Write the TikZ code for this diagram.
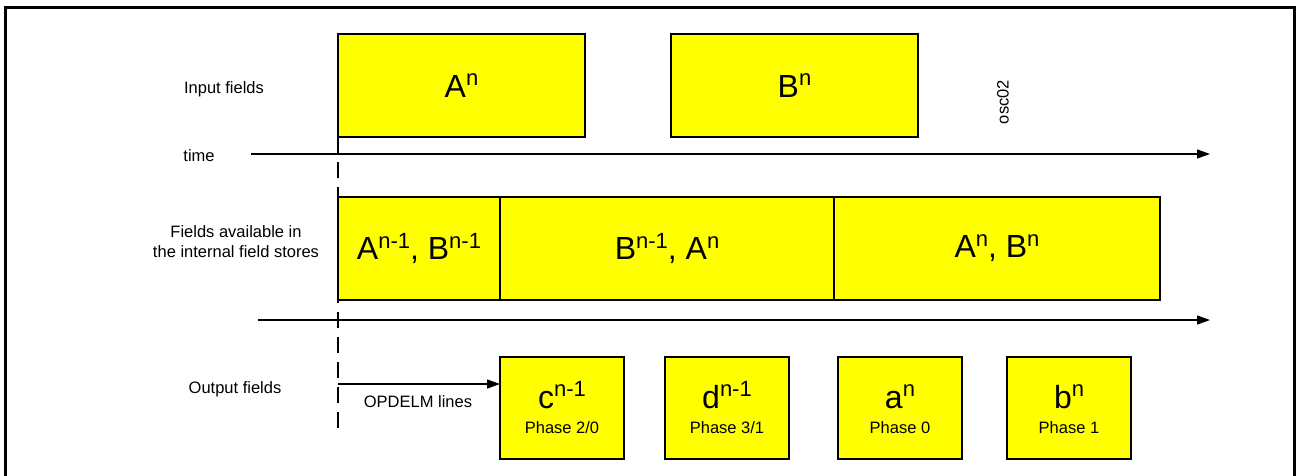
\documentclass[tikz,border=0pt]{standalone}
\usepackage{fontspec}
\setmainfont{Liberation Sans}
\usepackage{graphicx}
\usetikzlibrary{positioning,arrows.meta}

\definecolor{fieldyellow}{RGB}{255,255,0}
\newcommand{\fieldsup}[1]{\raisebox{0.35em}{\fontsize{22}{22}\selectfont #1}}

\begin{document}
\begin{tikzpicture}[
  x=1pt, y=-1pt,
  fieldbox/.style={draw, line width=1.2pt, fill=fieldyellow, inner sep=0pt, outer sep=0pt, anchor=north west, font=\fontsize{32}{36}\selectfont},
  inbox/.style={fieldbox, minimum width=247pt, minimum height=103pt},
  storebox/.style={fieldbox, minimum height=103pt},
  outbox/.style={fieldbox, minimum width=124pt, minimum height=102pt},
  bigtxt/.style={font=\fontsize{32}{36}\selectfont, inner sep=0pt, anchor=base},
  smalltxt/.style={font=\fontsize{16.5}{20}\selectfont, align=center},
  arrow/.style={-{Triangle[length=13pt,width=9pt]}, line width=1.2pt},
  dashline/.style={line width=1.2pt, dash pattern=on 16pt off 9pt}
]
\useasboundingbox (0,0) rectangle (1297,475);
\draw[line width=3pt] (5,7) rectangle (1294,480);

% row labels
\node[smalltxt] (inlbl) at (224,89) {Input fields};
\node[smalltxt] (timelbl) at (199,156) {time};
\node[smalltxt] (storelbl) at (236,242) {Fields available in\\the internal field stores};
\node[smalltxt] (outlbl) at (235,389) {Output fields};
\node[smalltxt, rotate=90] (tag) at (1003,102) {osc02};

% time axes
\coordinate (t0) at (251,154);
\coordinate (t1) at (1210,154);
\coordinate (s0) at (258,320);
\coordinate (s1) at (1210,320);
\draw[arrow] (t0) -- (t1);
\draw[arrow] (s0) -- (s1);

% input fields
\node[inbox] (abox) at (338,34) {A\fieldsup{n}};
\node[inbox] (bbox) at (671,34) {B\fieldsup{n}};

% reference line
\coordinate (dashend) at (338,432);
\draw[dashline] (abox.south west) -- (dashend);

% field stores
\node[storebox, minimum width=162pt] (st1) at (338,197) {A\fieldsup{n-1}, B\fieldsup{n-1}};
\node[storebox, minimum width=334pt, right=0pt of st1] (st2) {B\fieldsup{n-1}, A\fieldsup{n}};
\node[storebox, minimum width=326pt, right=0pt of st2] (st3) {A\fieldsup{n}, B\fieldsup{n}};

% output fields
\node[outbox] (cbox) at (500,357) {};
\node[outbox] (dbox) at (665,357) {};
\node[outbox] (abox2) at (838,357) {};
\node[outbox] (bbox2) at (1007,357) {};
\node[bigtxt] (ctxt) at (cbox.center) {c\fieldsup{n-1}};
\node[bigtxt] (dtxt) at (dbox.center) {d\fieldsup{n-1}};
\node[bigtxt] (atxt) at (abox2.center) {a\fieldsup{n}};
\node[bigtxt] (btxt) at (bbox2.center) {b\fieldsup{n}};
\node[smalltxt, anchor=base] (cph) at ([yshift=-25pt]cbox.center) {Phase 2/0};
\node[smalltxt, anchor=base] (dph) at ([yshift=-25pt]dbox.center) {Phase 3/1};
\node[smalltxt, anchor=base] (aph) at ([yshift=-25pt]abox2.center) {Phase 0};
\node[smalltxt, anchor=base] (bph) at ([yshift=-25pt]bbox2.center) {Phase 1};

% OPDELM
\coordinate (opd) at (338,384);
\draw[arrow] (opd) -- (opd -| cbox.west);
\node[smalltxt] (opdlbl) at (418,402) {OPDELM lines};
\end{tikzpicture}
\end{document}
